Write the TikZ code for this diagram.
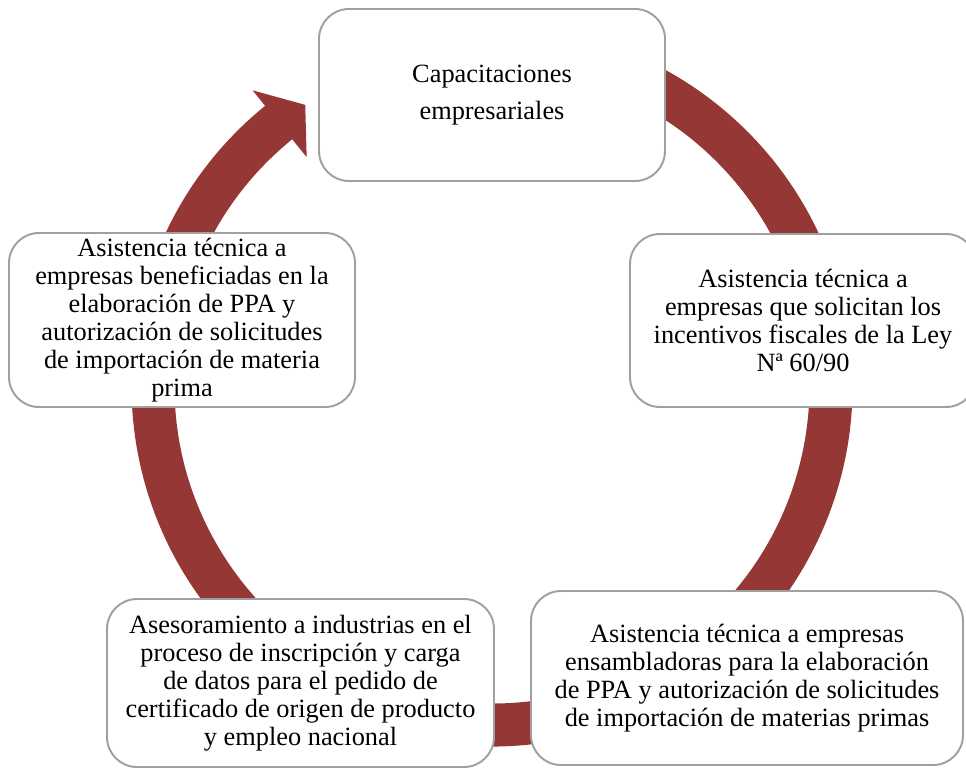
\documentclass[tikz,border=0pt]{standalone}
\usepackage{fontspec}
\setmainfont{Liberation Serif}
\definecolor{ringred}{RGB}{149,55,53}
\definecolor{boxgray}{RGB}{160,160,160}
\begin{document}
\begin{tikzpicture}[
  paso/.style={draw=boxgray, line width=1.1pt, fill=white, rounded corners=0.6cm,
    align=center, inner sep=0pt, font=\fontsize{15}{15.9}\selectfont},
]
\useasboundingbox (0,0) rectangle (19.32,15.4);
% ring with arrow head
\fill[ringred, shift={(9.84,7.68)}] (100:7.21) arc[start angle=100, end angle=-231, radius=7.21]
  -- (129:7.61) -- (123.6:6.75) -- (129:5.89) -- (129:6.35)
  arc[start angle=-231, end angle=100, radius=6.35] -- cycle;
% steps
\node[paso, minimum width=6.92cm, minimum height=3.44cm,
  font=\fontsize{15}{21}\selectfont] (cap) at (9.84,13.5)
  {Capacitaciones\\empresariales};
\node[paso, minimum width=6.92cm, minimum height=3.46cm] (ley) at (16.06,8.99)
  {Asistencia técnica a\\empresas que solicitan los\\incentivos fiscales de la Ley\\Nª 60/90};
\node[paso, minimum width=8.64cm, minimum height=3.48cm] (ens) at (14.94,1.84)
  {Asistencia técnica a empresas\\ensambladoras para la elaboración\\de PPA y autorización de solicitudes\\de importación de materias primas};
\node[paso, minimum width=7.74cm, minimum height=3.36cm] (ases) at (6.01,1.74)
  {Asesoramiento a industrias en el\\proceso de inscripción y carga\\de datos para el pedido de\\certificado de origen de producto\\y empleo nacional};
\node[paso, minimum width=6.92cm, minimum height=3.48cm] (benef) at (3.64,9.0)
  {Asistencia técnica a\\empresas beneficiadas en la\\elaboración de PPA y\\autorización de solicitudes\\de importación de materia\\prima};
\end{tikzpicture}
\end{document}
